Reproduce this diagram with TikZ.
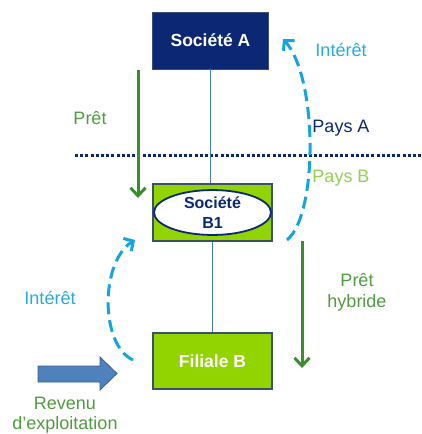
\documentclass[tikz,border=0pt]{standalone}
\usepackage{fontspec}
\setmainfont{Liberation Sans}
\usetikzlibrary{arrows.meta,shapes.geometric}
\definecolor{navy}{RGB}{12,40,116}
\definecolor{lime}{RGB}{146,212,0}
\definecolor{limetext}{RGB}{146,208,80}
\definecolor{dkgreen}{RGB}{62,140,48}
\definecolor{txtgreen}{RGB}{80,155,65}
\definecolor{cyanarr}{RGB}{20,165,225}
\definecolor{cyantext}{RGB}{40,170,225}
\definecolor{thinblue}{RGB}{70,120,195}
\definecolor{slate}{RGB}{60,80,110}
\definecolor{blockblue}{RGB}{79,129,189}
\definecolor{blockedge}{RGB}{56,93,138}
\begin{document}
\begin{tikzpicture}[x=1pt,y=-1pt,
  font=\fontsize{18}{21}\selectfont,
  boxA/.style={draw=slate, line width=0.8pt, fill=navy, text=white, font=\fontsize{17.5}{21}\selectfont\bfseries, minimum width=116pt, minimum height=57pt, inner sep=0pt},
  greenbox/.style={draw=slate, line width=1.2pt, fill=lime, minimum width=119pt, minimum height=57pt, inner sep=0pt},
  thinline/.style={draw=thinblue, line width=0.9pt},
  greenarrow/.style={draw=dkgreen, line width=3pt, -{Straight Barb[length=8pt,width=15pt]}},
  cyanarrow/.style={draw=cyanarr, line width=3pt, dash pattern=on 12pt off 6pt, -{Straight Barb[length=7pt,width=15pt]}},
  dotline/.style={draw=navy, line width=3pt, dash pattern=on 3pt off 2.2pt},
  lbl/.style={inner sep=0pt, align=center}
]
\useasboundingbox (0,0) rectangle (422,434);

% dotted border line
\coordinate (d1) at (75,155);
\coordinate (d2) at (422,155);
\draw[dotline] (d1) -- (d2);

% boxes
\node[boxA] (A) at (210.5,40.5) {Société A};
\node[greenbox] (B1box) at (212.5,212.5) {};
\node[ellipse, draw=navy, line width=1.8pt, fill=white, minimum width=117pt, minimum height=44pt, inner sep=0pt, align=center, text=navy, font=\fontsize{16}{20}\selectfont\bfseries] (B1) at (212.5,212.5) {Société\\B1};
\node[greenbox, text=white, font=\fontsize{17.5}{21}\selectfont\bfseries, minimum height=56pt] (F) at (212.5,361) {Filiale B};

% thin connectors
\draw[thinline] (A.south) -- (A.south |- B1box.north);
\draw[thinline] (B1box.south) -- (F.north);

% green arrows
\coordinate (p1) at (138,70);
\coordinate (p2) at (138,198);
\draw[greenarrow] (p1) -- (p2);
\coordinate (h1) at (302,241);
\coordinate (h2) at (302,368);
\draw[greenarrow] (h1) -- (h2);

% cyan dashed curved arrows
\coordinate (u1) at (287,240);
\coordinate (u2) at (283,39);
\draw[cyanarrow] (u1) .. controls (318,215) and (318,78) .. (u2);
\coordinate (l1) at (133,360);
\coordinate (l2) at (135,240);
\draw[cyanarrow] (l1) .. controls (100,345) and (100,262) .. (l2);

% block arrow
\draw[fill=blockblue, draw=blockedge, line width=0.8pt]
  (38,366) -- (100,366) -- (100,357) -- (117,373.5) -- (100,390) -- (100,382) -- (38,382) -- cycle;

% labels
\node[lbl, text=cyantext] (intA) at (341,50) {Intérêt};
\node[lbl, text=navy] (paysA) at (341,128) {Pays A};
\node[lbl, text=limetext] (paysB) at (341,178) {Pays B};
\node[lbl, text=txtgreen] (pret) at (90,118) {Prêt};
\node[lbl, text=cyantext] (intB) at (50,298) {Intérêt};
\node[lbl, text=txtgreen] (pretH) at (357,292) {Prêt\\hybride};
\node[lbl, text=txtgreen, font=\fontsize{18}{20}\selectfont] (rev) at (65,415) {Revenu\\d’exploitation};
\end{tikzpicture}
\end{document}
